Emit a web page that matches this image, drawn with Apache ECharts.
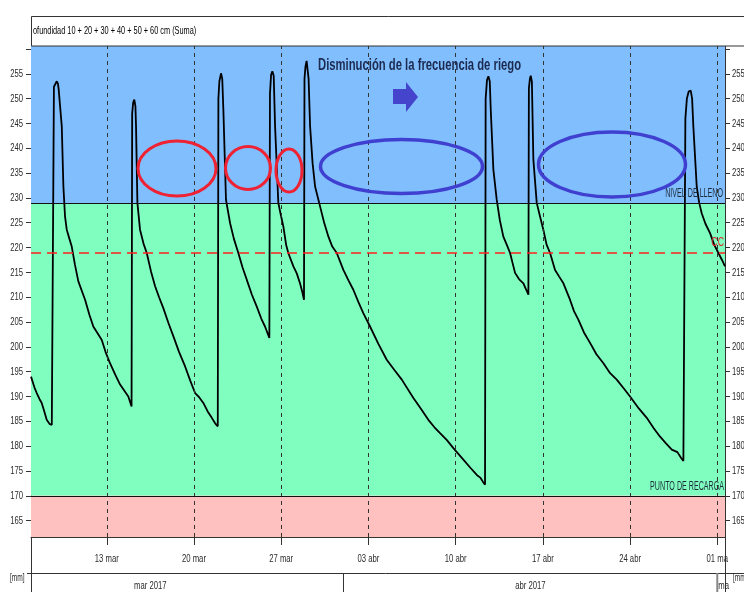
<!DOCTYPE html>
<html>
<head>
<meta charset="utf-8">
<script src="https://cdn.jsdelivr.net/npm/echarts@6/dist/echarts.min.js"></script>
<style>
  html, body { margin: 0; padding: 0; background: #fff; }
  #chart { width: 744px; height: 592px; }
</style>
</head>
<body>
<div id="chart"></div>
<script>
// Soil moisture sum of the 10-60 cm sensors, 2017.
// Time is stored as days since 1 Mar 2017 00:00.
const dayOffset = [
  5.92, 6.20, 6.38, 6.60, 6.78, 7.00, 7.18, 7.40, 7.59, 7.71,
  7.76, 7.99, 8.08, 8.14, 8.22, 8.28, 8.39, 8.52, 8.65, 8.79,
  9.00, 9.19, 9.45, 9.72, 10.26, 10.60, 10.92, 11.25, 11.60, 11.90,
  12.26, 12.70, 13.07, 13.40, 13.73, 13.99,
  14.04, 14.12, 14.21, 14.30, 14.35, 14.46, 14.67, 14.95, 15.21, 15.55,
  15.88, 16.20, 16.54, 16.95, 17.35, 17.80, 18.28, 18.70, 19.09, 19.40,
  19.75, 20.10, 20.43, 20.70, 20.91,
  20.96, 21.04, 21.17, 21.27, 21.36, 21.57, 21.90, 22.20, 22.56, 22.90,
  23.24, 23.65, 24.04, 24.40, 24.70, 25.05,
  25.10, 25.19, 25.29, 25.40, 25.51, 25.77, 25.95, 26.17, 26.40, 26.57,
  26.98, 27.25, 27.51, 27.70, 27.83,
  27.87, 27.95, 28.04, 28.12, 28.20, 28.32, 28.52, 28.72, 29.12, 29.45,
  29.79, 30.10, 30.46, 30.99, 31.40, 31.79, 32.20, 32.59, 33.13, 33.80,
  34.47, 35.10, 35.68, 36.61, 37.20, 37.81, 38.30, 38.75, 39.30, 39.82,
  40.20, 40.62, 41.20, 41.70, 42.00, 42.20, 42.36,
  42.41, 42.52, 42.63, 42.74, 42.82, 43.03, 43.30, 43.55, 43.83, 44.10,
  44.37, 44.77, 45.10, 45.44, 45.65, 45.84,
  45.88, 45.96, 46.03, 46.12, 46.24, 46.51, 46.75, 47.04, 47.30, 47.58,
  47.98, 48.30, 48.65, 49.18, 49.50, 49.85, 50.30, 50.79, 51.30, 51.86,
  52.40, 52.93, 53.50, 54.00, 54.70, 55.34, 55.90, 56.41, 56.90, 57.35,
  57.80, 58.10, 58.28, 58.40,
  58.44, 58.56, 58.70, 58.87, 58.98, 59.08, 59.35, 59.55, 59.75, 60.05,
  60.42, 60.75, 61.09, 61.40, 61.62
];
const sumMm = [
  194.0, 191.8, 190.7, 189.5, 188.7, 186.9, 185.3, 184.5, 184.3, 184.0,
  252.4, 253.5, 253.0, 251.9, 252.3, 251.5, 244.4, 232.3, 226.3, 223.6,
  221.8, 220.2, 216.5, 213.2, 209.5, 206.5, 204.1, 202.8, 201.4, 199.0,
  196.7, 194.3, 192.4, 191.2, 190.0, 188.0,
  247.0, 249.2, 249.8, 248.5, 244.4, 229.0, 223.6, 220.8, 218.9, 215.2,
  212.2, 210.0, 207.8, 204.8, 202.1, 199.0, 196.1, 193.2, 190.7, 189.9,
  188.7, 187.0, 185.7, 184.6, 184.0,
  250.0, 253.5, 255.1, 254.0, 247.7, 229.6, 224.9, 221.8, 218.9, 216.0,
  213.5, 210.5, 208.1, 205.7, 204.1, 201.8,
  251.0, 254.8, 255.5, 254.6, 244.4, 229.0, 226.8, 224.3, 220.5, 218.9,
  216.2, 214.8, 212.8, 211.0, 209.5,
  254.0, 256.5, 257.6, 257.2, 254.0, 244.4, 237.0, 232.3, 228.3, 225.0,
  222.2, 220.2, 218.9, 215.5, 213.4, 211.5, 209.0, 206.8, 204.1, 200.6,
  197.4, 195.3, 193.4, 189.7, 187.6, 185.3, 183.8, 182.6, 181.2, 179.6,
  178.5, 177.3, 175.6, 174.2, 173.6, 172.8, 172.2,
  250.0, 253.8, 254.5, 253.5, 247.7, 235.7, 229.6, 225.5, 222.2, 220.6,
  218.9, 214.9, 213.6, 212.8, 211.6, 210.5,
  252.0, 254.0, 254.6, 253.4, 237.7, 229.0, 226.5, 223.6, 220.6, 218.9,
  215.5, 214.2, 212.8, 209.5, 207.2, 205.5, 202.9, 200.8, 198.5, 196.7,
  194.7, 193.4, 191.6, 190.0, 187.6, 185.7, 183.6, 181.9, 180.5, 179.3,
  178.8, 177.6, 177.0, 177.2,
  246.0, 250.0, 251.4, 251.6, 250.0, 244.4, 232.3, 229.0, 226.9, 224.8,
  222.9, 220.6, 218.9, 217.4, 216.2
];

// Weekly date ticks (days since 1 Mar) and their labels
const tickDays = [12, 19, 26, 33, 40, 47, 54, 61];
const tickLabels = ['13 mar', '20 mar', '27 mar', '03 abr', '10 abr', '17 abr', '24 abr', '01 ma'];

// Month band: start day of each month and its label
const monthStarts = [0, 31, 61];
const monthEnds = [31, 61, 92];
const monthLabels = ['mar 2017', 'abr 2017', 'ma'];

// Value axis ticks and labels
const yTickValues = [165, 170, 175, 180, 185, 190, 195, 200, 205, 210, 215, 220, 225, 230, 235, 240, 245, 250, 255, 260];
const yLabelValues = [165, 170, 175, 180, 185, 190, 195, 200, 205, 210, 215, 220, 225, 230, 235, 240, 245, 250, 255];

// Reference levels (mm)
const fillLevel = 229;     // NIVEL DE LLENO
const fieldCapacity = 219; // CC
const refillPoint = 170;   // PUNTO DE RECARGA

const xMin = 5.92, xMax = 61.62;
const yMin = 161.7, yMax = 260.6;

const FONT = "'Liberation Sans', Arial, sans-serif";
const SX = 0.67; // horizontal squeeze giving a condensed face

const chart = echarts.init(document.getElementById('chart'), null, { renderer: 'canvas' });

const seriesData = dayOffset.map((d, i) => [d, sumMm[i]]);

function yAxisCfg(position) {
  return {
    type: 'value',
    position: position,
    min: yMin,
    max: yMax,
    axisLine: { show: true, lineStyle: { color: '#333', width: 1 } },
    axisTick: { show: true, customValues: yTickValues, length: 5, lineStyle: { color: '#333' } },
    axisLabel: { show: false },
    splitLine: { show: false }
  };
}

chart.setOption({
  animation: false,
  grid: { left: 31, right: 19, top: 46, bottom: 55, containLabel: false, outerBoundsMode: 'none' },
  xAxis: {
    type: 'value',
    min: xMin,
    max: xMax,
    axisLine: { show: true, lineStyle: { color: '#333', width: 1 } },
    axisTick: { show: true, customValues: tickDays, length: 8, lineStyle: { color: '#333' } },
    axisLabel: { show: false },
    splitLine: { show: false }
  },
  yAxis: [yAxisCfg('left'), yAxisCfg('right')],
  series: [{
    type: 'line',
    data: seriesData,
    showSymbol: false,
    lineStyle: { color: '#000', width: 1.8 },
    z: 4,
    markArea: {
      silent: true,
      data: [
        [{ yAxis: fillLevel, itemStyle: { color: '#80BEFE' } }, { yAxis: yMax }],
        [{ yAxis: refillPoint, itemStyle: { color: '#80FEC0' } }, { yAxis: fillLevel }],
        [{ yAxis: yMin, itemStyle: { color: '#FFC0C0' } }, { yAxis: refillPoint }]
      ]
    },
    markLine: {
      silent: true,
      symbol: ['none', 'none'],
      animation: false,
      label: { show: false },
      data: tickDays.map(d => ({
        xAxis: d,
        lineStyle: { color: '#333', type: [4, 4], width: 1 }
      })).concat([
        { yAxis: fillLevel, lineStyle: { color: '#111', type: 'solid', width: 1.2 } },
        { yAxis: refillPoint, lineStyle: { color: '#111', type: 'solid', width: 1.2 } },
        { yAxis: fieldCapacity, lineStyle: { color: '#FF2020', type: [10, 6], width: 1.5 } }
      ])
    }
  }]
});

// Text helper: squeezed horizontally around its anchor point
function label(x, y, text, opt) {
  opt = opt || {};
  return {
    type: 'text', z: 20, x: x, y: y, scaleX: opt.sx || SX,
    style: {
      text: text,
      fill: opt.color || '#2a2a2a',
      font: (opt.weight ? opt.weight + ' ' : '') + (opt.size || 11) + 'px ' + FONT,
      align: opt.align || 'left',
      verticalAlign: 'middle'
    }
  };
}

const px = d => chart.convertToPixel({ xAxisIndex: 0 }, d);
const py = v => chart.convertToPixel({ yAxisIndex: 0 }, v);
const plotLeft = px(xMin), plotRight = px(xMax);

const graphics = [];

// header box with the series name
graphics.push({ type: 'rect', z: 10, shape: { x: 31.5, y: 16.5, width: 740, height: 29.5 }, style: { fill: '#fff', stroke: '#333', lineWidth: 1 } });
graphics.push(label(33, 31, 'ofundidad 10 + 20 + 30 + 40 + 50 + 60 cm (Suma)', { size: 10.5, color: '#000', sx: 0.7 }));

// value axis labels on both sides
yLabelValues.forEach(v => {
  graphics.push(label(plotLeft - 8, py(v), String(v), { align: 'right', size: 11.5 }));
  graphics.push(label(plotRight + 7, py(v), String(v), { align: 'left', size: 11.5 }));
});

// date labels
tickDays.forEach((d, i) => {
  graphics.push(label(px(d), 559, tickLabels[i], { align: 'center', size: 11.5 }));
});

// level names
graphics.push(label(plotRight - 2, py(fillLevel) - 9, 'NIVEL DE LLENO', { align: 'right', size: 12.5, color: '#1d2b3a', sx: 0.57 }));
graphics.push(label(plotRight - 1, py(refillPoint) - 9, 'PUNTO DE RECARGA', { align: 'right', size: 12.5, color: '#1d2b3a', sx: 0.57 }));
graphics.push(label(plotRight - 1, py(fieldCapacity) - 10, 'CC', { align: 'right', size: 12.5, color: '#E02828', sx: 0.7 }));

// month band under the date labels
graphics.push({ type: 'line', z: 10, shape: { x1: 27, y1: 573.5, x2: 744, y2: 573.5 }, style: { stroke: '#333', lineWidth: 1 } });
graphics.push({ type: 'line', z: 10, shape: { x1: 31.5, y1: 537, x2: 31.5, y2: 592 }, style: { stroke: '#333', lineWidth: 1 } });
graphics.push({ type: 'line', z: 10, shape: { x1: 725.5, y1: 537, x2: 725.5, y2: 592 }, style: { stroke: '#333', lineWidth: 1 } });
monthStarts.forEach((m, i) => {
  const x0 = px(m);
  if (i > 0) {
    graphics.push({ type: 'line', z: 10, shape: { x1: x0, y1: 573, x2: x0, y2: 592 }, style: { stroke: i === 2 ? '#888' : '#333', lineWidth: i === 2 ? 2 : 1 } });
  }
  if (i < 2) {
    graphics.push(label((x0 + px(monthEnds[i])) / 2, 586, monthLabels[i], { align: 'center', size: 11.5 }));
  } else {
    graphics.push(label(x0 + 1, 586, monthLabels[i], { size: 11.5 }));
  }
});
graphics.push(label(10, 578, '[mm]', { size: 11, sx: 0.6 }));
graphics.push(label(733, 578, '[mm]', { size: 11, sx: 0.6 }));

// annotation: irrigation frequency
graphics.push(label(318, 66, 'Disminución de la frecuencia de riego', { size: 16, weight: 'bold', color: '#1c2a50', sx: 0.705 }));
graphics.push({ type: 'polygon', z: 12, shape: { points: [[393, 89], [406, 89], [406, 82], [418, 97], [406, 112], [406, 104], [393, 104]] }, style: { fill: '#4444CC' } });

// frequent irrigation (red) and spaced irrigation (blue) highlights
graphics.push({ type: 'ellipse', z: 12, shape: { cx: 177, cy: 168.5, rx: 39, ry: 27.5 }, style: { fill: 'none', stroke: '#EE2233', lineWidth: 3 } });
graphics.push({ type: 'ellipse', z: 12, shape: { cx: 248, cy: 168, rx: 22.5, ry: 21.5 }, style: { fill: 'none', stroke: '#EE2233', lineWidth: 3 } });
graphics.push({ type: 'ellipse', z: 12, shape: { cx: 289, cy: 170.5, rx: 13, ry: 21.5 }, style: { fill: 'none', stroke: '#EE2233', lineWidth: 3 } });
graphics.push({ type: 'ellipse', z: 12, shape: { cx: 401.5, cy: 166.5, rx: 81, ry: 27 }, style: { fill: 'none', stroke: '#4040D0', lineWidth: 3.5 } });
graphics.push({ type: 'ellipse', z: 12, shape: { cx: 612, cy: 164.5, rx: 73.5, ry: 32.5 }, style: { fill: 'none', stroke: '#4040D0', lineWidth: 3.5 } });

chart.setOption({ graphic: graphics });
</script>
</body>
</html>
